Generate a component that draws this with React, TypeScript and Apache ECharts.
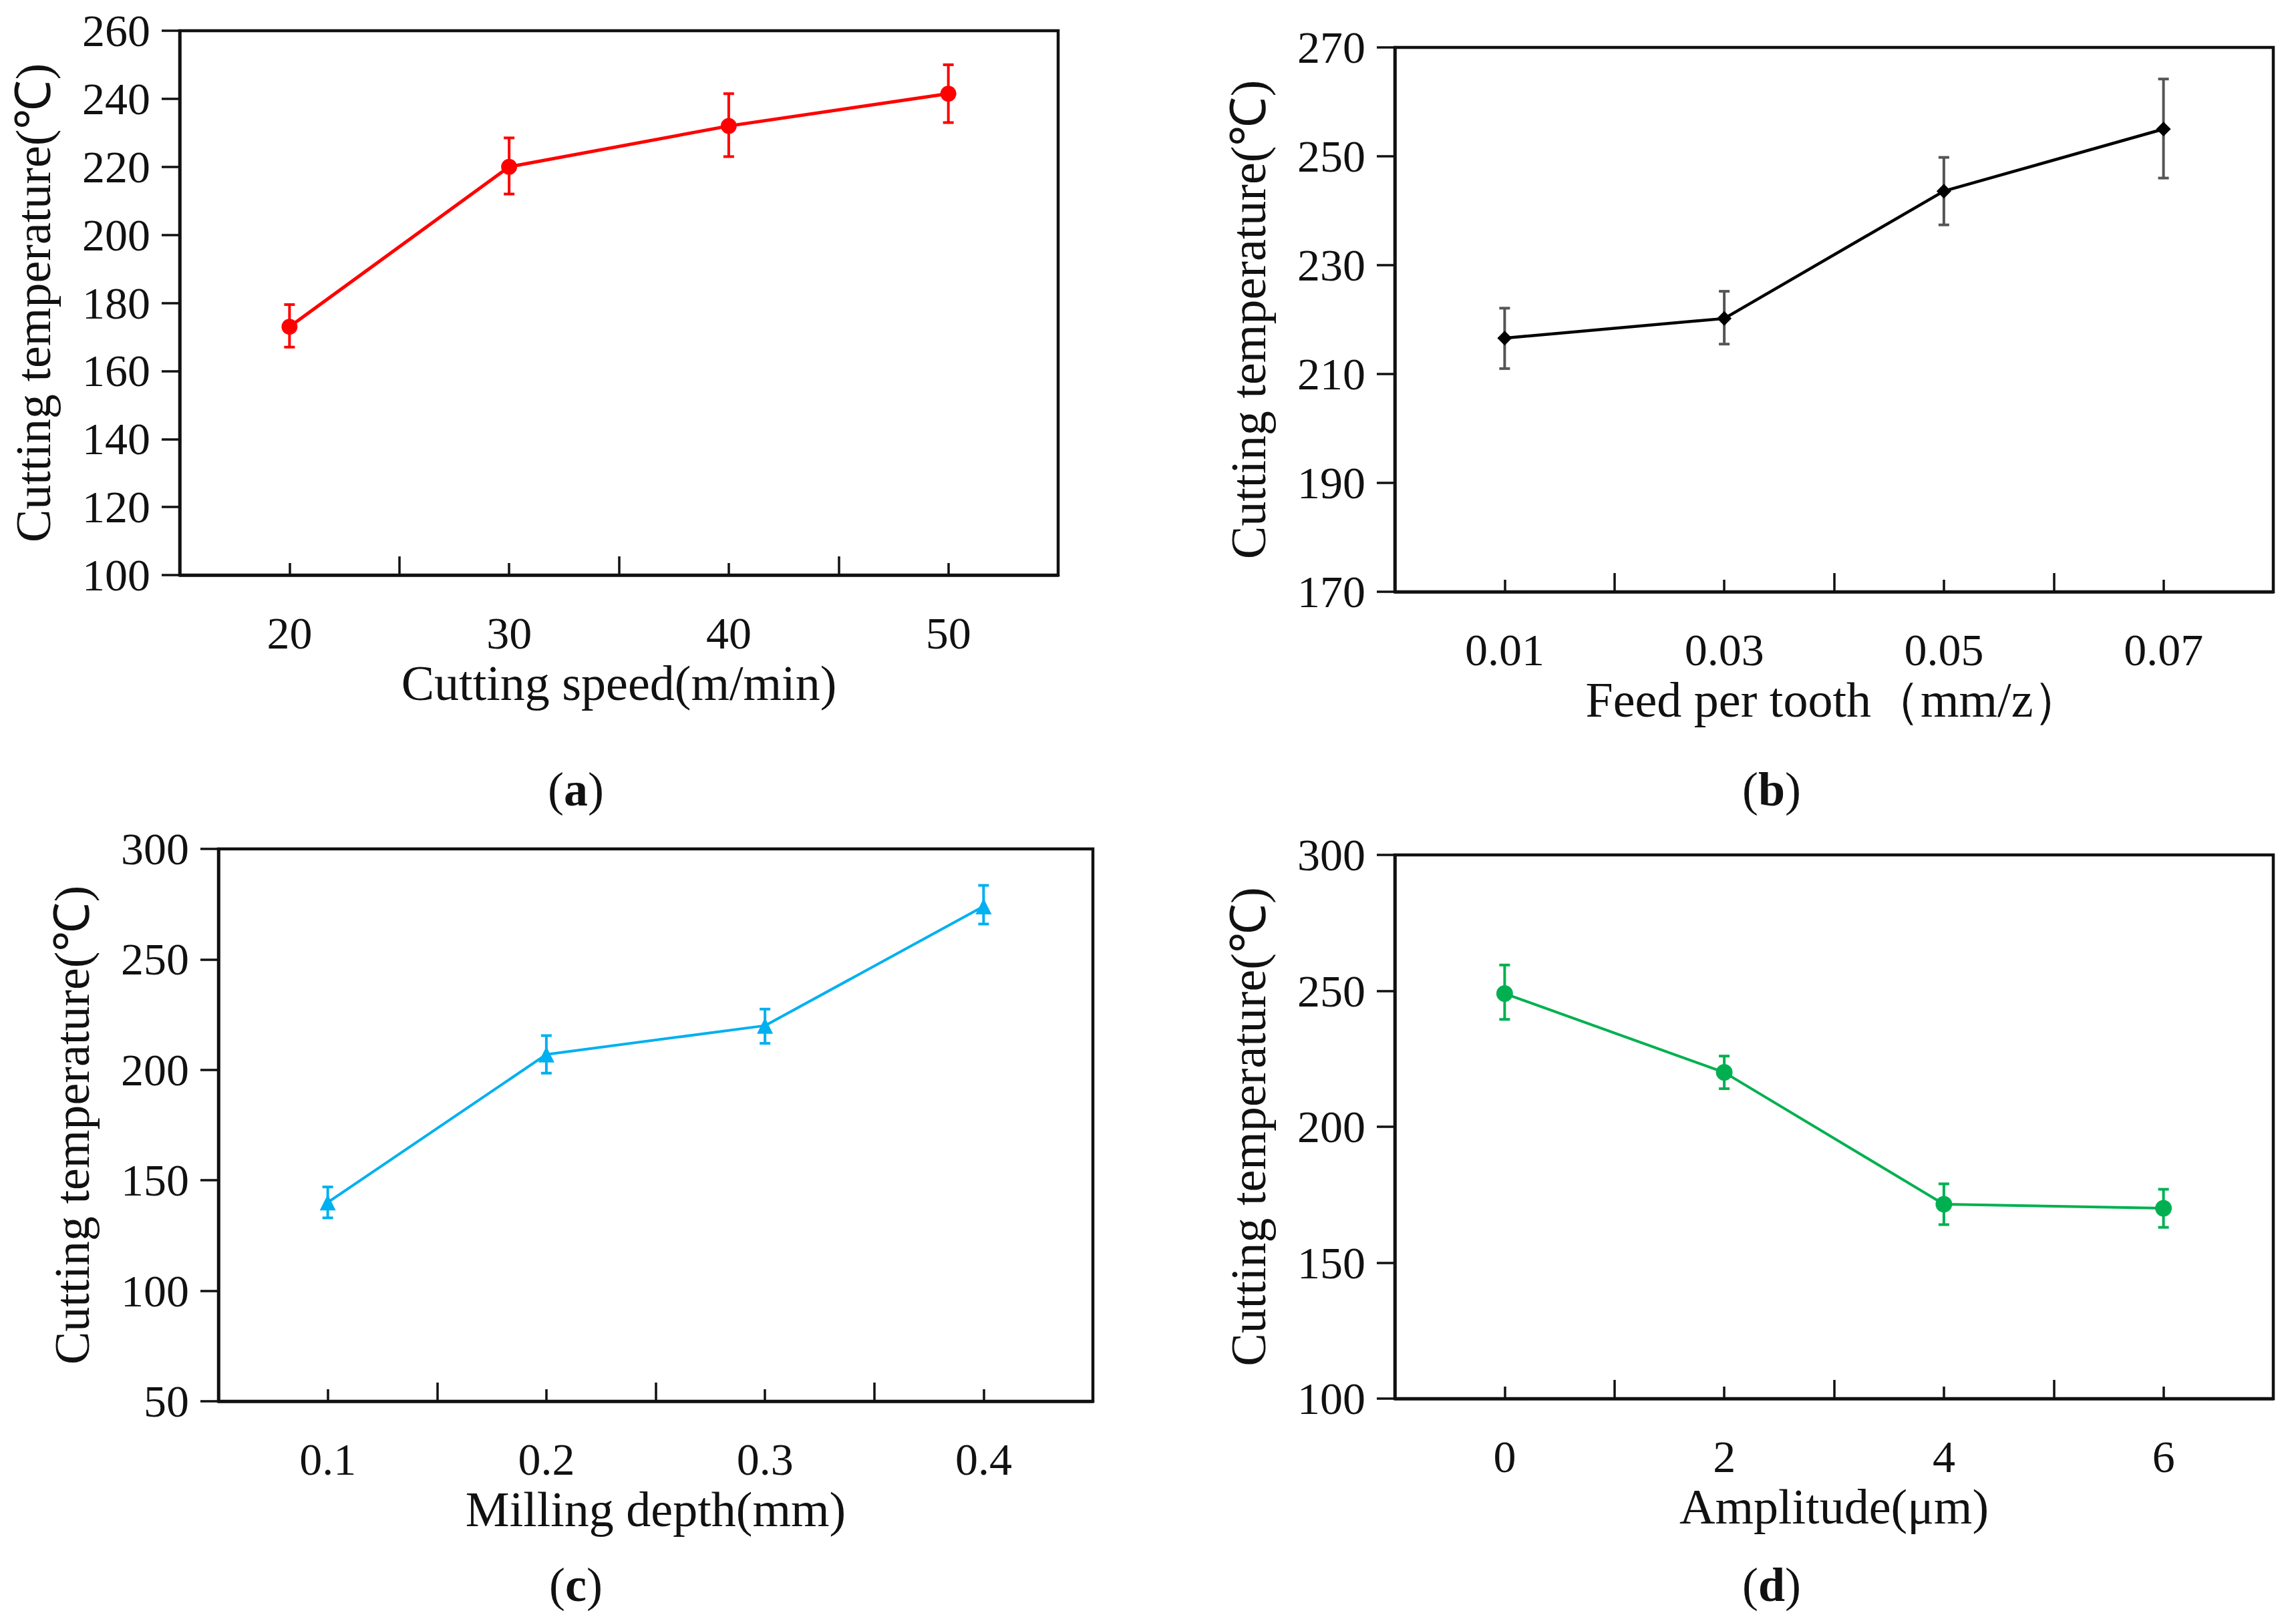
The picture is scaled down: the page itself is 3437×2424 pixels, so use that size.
import { useEffect, useRef } from 'react';
import * as echarts from 'echarts';

// (a) cutting speed
const speedValues = [20, 30, 40, 50];
const speedTemp = [173, 220, 232, 241.5];
const speedLow = [167, 212, 223, 233];
const speedHigh = [179.5, 228.5, 241.5, 250];
const speedMinor = [25, 35, 45];
const speedYTicks = [100, 120, 140, 160, 180, 200, 220, 240, 260];

// (b) feed per tooth
const feedValues = [0.01, 0.03, 0.05, 0.07];
const feedTemp = [216.6, 220.2, 243.6, 255];
const feedLow = [211, 215.5, 237.4, 246];
const feedHigh = [222.1, 225.2, 249.8, 264.2];
const feedMinor = [0.02, 0.04, 0.06];
const feedYTicks = [170, 190, 210, 230, 250, 270];

// (c) milling depth
const depthValues = [0.1, 0.2, 0.3, 0.4];
const depthTemp = [140, 207, 220, 274];
const depthLow = [133, 198.5, 212, 266];
const depthHigh = [147, 215.5, 227.5, 283.5];
const depthMinor = [0.15, 0.25, 0.35];
const depthYTicks = [50, 100, 150, 200, 250, 300];

// (d) amplitude
const ampValues = [0, 2, 4, 6];
const ampTemp = [249, 220, 171.5, 170];
const ampLow = [239.5, 214, 164, 163];
const ampHigh = [259.5, 226, 179, 177];
const ampMinor = [1, 3, 5];
const ampYTicks = [100, 150, 200, 250, 300];

const FONT = '"Liberation Serif", "Times New Roman", serif';
const Y_NAME = 'Cutting temperature(℃)';
const TICK_SIZE = 68;
const NAME_SIZE = 74;

interface Panel {
  box: { left: number; top: number; width: number; height: number };
  xMin: number;
  xMax: number;
  xTicks: number[];
  xMinor: number[];
  yTicks: number[];
  xName: string;
  xs: number[];
  ys: number[];
  low: number[];
  high: number[];
  color: string;
  barColor: string;
  symbol: string;
  symbolSize: number;
  lineWidth: number;
  tag: string;
  tagPos: [number, number];
}

const panels: Panel[] = [
  {
    box: { left: 269, top: 46, width: 1315, height: 815 },
    xMin: 15, xMax: 55, xTicks: speedValues, xMinor: speedMinor, yTicks: speedYTicks,
    xName: 'Cutting speed(m/min)',
    xs: speedValues, ys: speedTemp, low: speedLow, high: speedHigh,
    color: '#ff0000', barColor: '#ff0000', symbol: 'circle', symbolSize: 24, lineWidth: 5,
    tag: 'a', tagPos: [862, 1182],
  },
  {
    box: { left: 2088, top: 71, width: 1315, height: 815 },
    xMin: 0, xMax: 0.08, xTicks: feedValues, xMinor: feedMinor, yTicks: feedYTicks,
    xName: 'Feed per tooth（mm/z）',
    xs: feedValues, ys: feedTemp, low: feedLow, high: feedHigh,
    color: '#000000', barColor: '#555555', symbol: 'diamond', symbolSize: 22, lineWidth: 4.5,
    tag: 'b', tagPos: [2652, 1182],
  },
  {
    box: { left: 327, top: 1271, width: 1309, height: 827 },
    xMin: 0.05, xMax: 0.45, xTicks: depthValues, xMinor: depthMinor, yTicks: depthYTicks,
    xName: 'Milling depth(mm)',
    xs: depthValues, ys: depthTemp, low: depthLow, high: depthHigh,
    color: '#00b0f0', barColor: '#00b0f0', symbol: 'triangle', symbolSize: 24, lineWidth: 4,
    tag: 'c', tagPos: [862, 2373],
  },
  {
    box: { left: 2088, top: 1280, width: 1315, height: 814 },
    xMin: -1, xMax: 7, xTicks: ampValues, xMinor: ampMinor, yTicks: ampYTicks,
    xName: 'Amplitude(μm)',
    xs: ampValues, ys: ampTemp, low: ampLow, high: ampHigh,
    color: '#00b050', barColor: '#00b050', symbol: 'circle', symbolSize: 25, lineWidth: 4,
    tag: 'd', tagPos: [2652, 2373],
  },
];

function buildOption(): echarts.EChartsOption {
  const grid: any[] = [];
  const xAxis: any[] = [];
  const yAxis: any[] = [];
  const series: any[] = [];
  const graphic: any[] = [];

  panels.forEach((p, i) => {
    grid.push({
      ...p.box,
      show: true,
      borderColor: '#111',
      borderWidth: 4.5,
      backgroundColor: 'transparent',
    });
    const yMin = p.yTicks[0];
    const yMax = p.yTicks[p.yTicks.length - 1];
    xAxis.push({
      type: 'value',
      gridIndex: i,
      position: 'bottom',
      min: p.xMin,
      max: p.xMax,
      name: p.xName,
      nameLocation: 'middle',
      nameGap: 125,
      nameMoveOverlap: false,
      nameTextStyle: { fontFamily: FONT, fontSize: NAME_SIZE, color: '#111' },
      axisLine: { show: true, onZero: false, lineStyle: { color: '#111', width: 4.5 } },
      axisTick: { show: true, inside: true, length: 18, customValues: p.xTicks, lineStyle: { color: '#111', width: 3.5 } },
      axisLabel: { show: true, customValues: p.xTicks, margin: 53, fontFamily: FONT, fontSize: TICK_SIZE, color: '#111' },
      splitLine: { show: false },
    });
    xAxis.push({
      type: 'value',
      gridIndex: i,
      position: 'bottom',
      min: p.xMin,
      max: p.xMax,
      axisLine: { show: false },
      axisTick: { show: true, inside: true, length: 28, customValues: p.xMinor, lineStyle: { color: '#111', width: 3.5 } },
      axisLabel: { show: false, customValues: p.xMinor },
      splitLine: { show: false },
    });
    yAxis.push({
      type: 'value',
      gridIndex: i,
      min: yMin,
      max: yMax,
      name: Y_NAME,
      nameLocation: 'middle',
      nameGap: 182,
      nameTextStyle: { fontFamily: FONT, fontSize: NAME_SIZE, color: '#111' },
      axisLine: { show: true, onZero: false, lineStyle: { color: '#111', width: 4.5 } },
      axisTick: { show: true, inside: false, length: 27, customValues: p.yTicks, lineStyle: { color: '#111', width: 3.5 } },
      axisLabel: { show: true, customValues: p.yTicks, margin: 44, fontFamily: FONT, fontSize: TICK_SIZE, color: '#111' },
      splitLine: { show: false },
    });

    series.push({
      type: 'custom',
      xAxisIndex: i * 2,
      yAxisIndex: i,
      z: 2,
      silent: true,
      data: p.xs.map((x, k) => [x, p.low[k], p.high[k]]),
      renderItem: (_params: any, api: any) => {
        const top = api.coord([api.value(0), api.value(2)]);
        const bottom = api.coord([api.value(0), api.value(1)]);
        const cap = 8;
        const style = { stroke: p.barColor, lineWidth: 4 };
        return {
          type: 'group',
          children: [
            { type: 'line', shape: { x1: top[0], y1: top[1], x2: bottom[0], y2: bottom[1] }, style },
            { type: 'line', shape: { x1: top[0] - cap, y1: top[1], x2: top[0] + cap, y2: top[1] }, style },
            { type: 'line', shape: { x1: bottom[0] - cap, y1: bottom[1], x2: bottom[0] + cap, y2: bottom[1] }, style },
          ],
        };
      },
    });
    series.push({
      type: 'line',
      xAxisIndex: i * 2,
      yAxisIndex: i,
      z: 3,
      data: p.xs.map((x, k) => [x, p.ys[k]]),
      symbol: p.symbol,
      symbolSize: p.symbolSize,
      showSymbol: true,
      lineStyle: { color: p.color, width: p.lineWidth },
      itemStyle: { color: p.color },
    });

    graphic.push({
      type: 'text',
      x: p.tagPos[0],
      y: p.tagPos[1],
      style: {
        text: `(${'{b|' + p.tag + '}'})`,
        rich: { b: { fontWeight: 'bold', fontFamily: FONT, fontSize: 72, fill: '#111' } },
        fontFamily: FONT,
        fontSize: 72,
        fill: '#111',
        textAlign: 'center',
        textVerticalAlign: 'middle',
      },
    });
  });

  return {
    animation: false,
    backgroundColor: '#ffffff',
    textStyle: { fontFamily: FONT },
    grid,
    xAxis,
    yAxis,
    series,
    graphic,
  };
}

export default function App() {
  const chartRef = useRef<HTMLDivElement>(null);

  useEffect(() => {
    document.body.style.margin = '0';
    if (!chartRef.current) return;
    const chart = echarts.init(chartRef.current, null, { renderer: 'svg' });
    chart.setOption(buildOption());
    return () => {
      chart.dispose();
    };
  }, []);

  return <div ref={chartRef} style={{ width: '3437px', height: '2424px' }} />;
}
